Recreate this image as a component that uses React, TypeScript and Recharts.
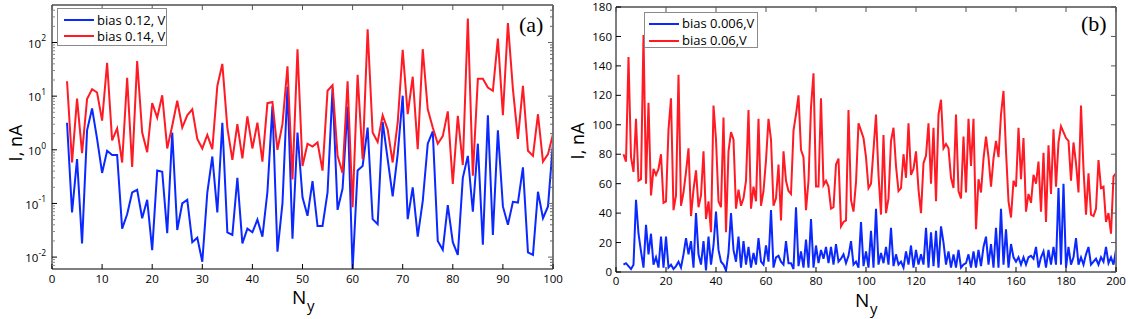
import React from "react";
import { LineChart, Line, XAxis, YAxis } from "recharts";

const BLUE = "#0a28ff";
const RED = "#ff1a24";
const SANS = "'Open Sans', 'DejaVu Sans', sans-serif";
const SERIF = "'Liberation Serif', 'DejaVu Serif', serif";
const TICK = 5;

// N_y starts at 3 in both panels
const firstNy = 3;

// panel (a): log scale, N_y = 3..100
const blueA = [
  3.2, 0.068, 0.67, 0.018, 2.3, 5.9, 1.6, 0.37, 0.96, 0.8,
  0.8, 0.034, 0.063, 0.16, 0.18, 0.053, 0.117, 0.0135, 0.41, 0.39,
  0.028, 2.1, 0.032, 0.1, 0.117, 0.019, 0.023, 0.0082, 0.16, 0.75,
  0.068, 3.2, 0.029, 0.026, 0.3, 0.018, 0.034, 0.029, 0.05, 0.024,
  0.165, 6.6, 0.0126, 0.1, 15, 0.022, 2.1, 0.13, 0.059, 0.26,
  0.038, 0.038, 0.16, 14, 0.076, 0.19, 6.4, 0.0058, 0.41, 0.5,
  2.6, 0.051, 0.041, 3.3, 0.67, 0.135, 0.83, 10.2, 0.051, 0.2,
  0.024, 0.11, 1.3, 2.2, 0.02, 0.0137, 0.093, 0.019, 0.011, 0.3,
  0.77, 0.07, 1.3, 0.017, 4.4, 0.026, 2.3, 0.088, 0.04, 0.107,
  0.104, 0.47, 0.0123, 0.011, 0.165, 0.053, 0.088, 1.37,
];
const redA = [
  19, 0.58, 9, 0.87, 8.8, 13.5, 11.7, 3.5, 42, 1.5,
  2.5, 0.58, 22, 0.48, 45, 2.1, 0.9, 7.4, 4, 10.4,
  1.06, 2.8, 8.2, 2.6, 4.4, 5.7, 1.6, 1.06, 1.9, 1.03,
  15.5, 40, 2.6, 0.65, 3, 0.69, 4.2, 1.06, 3.2, 0.6,
  7.4, 7.8, 1.0, 3, 36, 0.28, 75, 0.5, 1.3, 1.15,
  1.37, 0.41, 12.6, 16, 0.77, 0.37, 19, 0.085, 25, 0.67,
  177, 2.1, 1.4, 4.4, 2.4, 0.58, 3.2, 73, 4.6, 23,
  1.03, 75, 5.7, 2.6, 1.3, 1.8, 5.2, 0.23, 4.3, 0.52,
  280, 0.33, 21, 21, 14.5, 12.6, 118, 4.4, 230, 13.5,
  1.6, 15.5, 0.96, 0.77, 4.6, 0.6, 0.83, 1.96,
];

// panel (b): linear scale, N_y = 3..200
const blueB = [
  5, 6, 4, 2, 5, 49, 26, 14, 3, 32,
  12, 26, 5, 10, 3, 24, 3, 24, 3, 5,
  2, 4, 7, 3, 12, 23, 12, 21, 3, 40,
  12, 5, 21, 1, 24, 5, 18, 41, 15, 7,
  5, 1, 13, 40, 15, 7, 24, 3, 21, 5,
  17, 3, 13, 5, 23, 7, 5, 18, 7, 42,
  3, 10, 11, 7, 5, 21, 6, 6, 2, 44,
  4, 14, 3, 22, 3, 36, 3, 18, 6, 15,
  9, 17, 6, 17, 5, 19, 7, 9, 12, 6,
  11, 21, 5, 7, 3, 34, 4, 14, 3, 28,
  3, 43, 5, 13, 6, 17, 5, 30, 4, 12,
  5, 7, 3, 14, 5, 18, 3, 15, 5, 12,
  5, 30, 3, 27, 4, 28, 3, 31, 20, 5,
  14, 3, 12, 3, 15, 3, 5, 6, 12, 3,
  14, 3, 15, 4, 17, 24, 5, 19, 3, 30,
  3, 43, 5, 29, 3, 19, 10, 7, 10, 5,
  10, 5, 10, 11, 9, 17, 3, 10, 14, 3,
  15, 5, 17, 5, 57, 5, 60, 3, 17, 5,
  10, 23, 5, 10, 5, 12, 17, 5, 7, 9,
  5, 10, 7, 17, 6, 10, 5, 15,
];
const redB = [
  80, 75, 146, 78, 68, 104, 62, 63, 161, 60,
  115, 52, 70, 66, 70, 80, 47, 48, 97, 118,
  42, 52, 134, 45, 54, 68, 84, 38, 56, 69,
  44, 52, 82, 36, 48, 27, 113, 90, 48, 44,
  105, 27, 82, 95, 90, 43, 56, 45, 50, 62,
  110, 43, 58, 48, 104, 45, 55, 76, 104, 90,
  45, 50, 73, 35, 82, 62, 55, 53, 96, 107,
  120, 83, 78, 42, 62, 112, 135, 58, 58, 118,
  59, 62, 58, 43, 44, 73, 77, 31, 34, 35,
  110, 49, 41, 61, 101, 96, 91, 78, 57, 60,
  83, 107, 66, 39, 93, 40, 50, 89, 98, 72,
  55, 57, 80, 64, 101, 66, 70, 82, 56, 40,
  74, 79, 101, 60, 98, 48, 107, 117, 84, 87,
  84, 64, 57, 107, 55, 50, 92, 54, 104, 72,
  104, 29, 63, 54, 77, 92, 78, 58, 77, 89,
  78, 107, 123, 82, 48, 37, 62, 58, 98, 63,
  91, 41, 53, 47, 66, 60, 75, 41, 81, 34,
  86, 53, 97, 58, 88, 99, 95, 91, 89, 62,
  88, 74, 54, 113, 70, 39, 67, 39, 38, 43,
  76, 57, 58, 34, 40, 26, 65, 67,
];

const xTicksA = [0, 10, 20, 30, 40, 50, 60, 70, 80, 90, 100];
const decadesA = [0.01, 0.1, 1, 10, 100];
const minorA = [
  0.007, 0.008, 0.009,
  0.02, 0.03, 0.04, 0.05, 0.06, 0.07, 0.08, 0.09,
  0.2, 0.3, 0.4, 0.5, 0.6, 0.7, 0.8, 0.9,
  2, 3, 4, 5, 6, 7, 8, 9,
  20, 30, 40, 50, 60, 70, 80, 90,
  200, 300, 400,
];
const xTicksB = [0, 20, 40, 60, 80, 100, 120, 140, 160, 180, 200];
const yTicksB = [0, 20, 40, 60, 80, 100, 120, 140, 160, 180];

const seriesA = [
  { key: "blue", name: "bias 0.12, V", color: BLUE },
  { key: "red", name: "bias 0.14, V", color: RED },
];
const seriesB = [
  { key: "blue", name: "bias 0.006,V", color: BLUE },
  { key: "red", name: "bias 0.06,V", color: RED },
];

const toRows = (blue: number[], red: number[]) =>
  blue.map((b, i) => ({ ny: firstNy + i, blue: b, red: red[i] }));
const rowsA = toRows(blueA, redA);
const rowsB = toRows(blueB, redB);
const logTicksA = [...minorA, ...decadesA].sort((a, b) => a - b);

const label = { fontSize: 11.5, fontFamily: SANS, fill: "#000" };

// MATLAB-style ticks point into the plot box
const bottomTick = (gap: number) => (p: any) => (
  <g>
    <line x1={p.x} x2={p.x} y1={p.y - gap} y2={p.y - gap - TICK} stroke="#000" />
    <text x={p.x} y={p.y} dy="0.71em" textAnchor="middle" {...label}>{p.payload.value}</text>
  </g>
);
const topTick = (p: any) => (
  <line x1={p.x} x2={p.x} y1={p.y} y2={p.y + TICK} stroke="#555" />
);
const leftTick = (gap: number) => (p: any) => (
  <g>
    <line x1={p.x + gap} x2={p.x + gap + TICK} y1={p.y} y2={p.y} stroke="#000" />
    <text x={p.x} y={p.y} dy="0.36em" textAnchor="end" {...label}>{p.payload.value}</text>
  </g>
);
const rightTick = (p: any) => (
  <line x1={p.x - TICK} x2={p.x} y1={p.y} y2={p.y} stroke="#555" />
);
const logLeftTick = (gap: number) => (p: any) => {
  const v = p.payload.value;
  const ax = p.x + gap;
  if (!decadesA.includes(v)) {
    return <line x1={ax} x2={ax + 3} y1={p.y} y2={p.y} stroke="#888" />;
  }
  const exp = Math.round(Math.log10(v));
  return (
    <g>
      <line x1={ax} x2={ax + TICK} y1={p.y} y2={p.y} stroke="#000" />
      <text x={p.x} y={p.y} dy="0.45em" textAnchor="end" {...label}>
        10<tspan dy="-0.75em" fontSize={8.5}>{exp}</tspan>
      </text>
    </g>
  );
};
const logRightTick = (p: any) => {
  const len = decadesA.includes(p.payload.value) ? TICK : 3;
  return <line x1={p.x - len} x2={p.x} y1={p.y} y2={p.y} stroke="#666" />;
};

type Item = { key: string; name: string; color: string };

function LegendBox({ items, left, top, width, height, padTop, padLeft, rowH, textGap }: {
  items: Item[]; left: number; top: number; width: number; height: number;
  padTop: number; padLeft: number; rowH: number; textGap: number;
}) {
  return (
    <div style={{
      position: "absolute", left, top, width, height, boxSizing: "border-box",
      border: "1px solid #8a8a8a", background: "#fff", paddingTop: padTop, paddingLeft: padLeft,
    }}>
      {items.map((s) => (
        <div key={s.key} style={{ display: "flex", alignItems: "center", height: rowH }}>
          <span style={{ width: 30, height: 2, background: s.color, display: "inline-block" }} />
          <span style={{ marginLeft: textGap, fontFamily: SANS, fontSize: 13, lineHeight: "13px", whiteSpace: "nowrap" }}>
            {s.name}
          </span>
        </div>
      ))}
    </div>
  );
}

function YLabel({ cx, cy }: { cx: number; cy: number }) {
  return (
    <div style={{
      position: "absolute", left: cx, top: cy, transform: "translate(-50%, -50%) rotate(-90deg)",
      fontFamily: SANS, fontSize: 18, lineHeight: "18px", whiteSpace: "nowrap",
    }}>I, nA</div>
  );
}

// "N" and subscript "y" as two side-by-side boxes so they do not overlap
function XLabel({ left, top }: { left: number; top: number }) {
  return (
    <>
      <div style={{ position: "absolute", left, top, fontFamily: SANS, fontSize: 19, lineHeight: "12px", whiteSpace: "nowrap" }}>N</div>
      <div style={{ position: "absolute", left: left + 15, top: top + 9, fontFamily: SANS, fontSize: 15, lineHeight: "10px", whiteSpace: "nowrap" }}>y</div>
    </>
  );
}

function PanelTag({ text, left, top }: { text: string; left: number; top: number }) {
  return (
    <div style={{ position: "absolute", left, top, fontFamily: SERIF, fontSize: 22, lineHeight: "22px" }}>{text}</div>
  );
}

export default function App() {
  return (
    <div style={{ position: "absolute", left: 0, top: 0, width: 1128, height: 319, background: "#fff", overflow: "hidden" }}>
      <div style={{ position: "absolute", left: 0, top: 0 }}>
        <LineChart width={570} height={319} data={rowsA} margin={{ top: 3, right: 15, bottom: 20, left: 10 }}>
          <XAxis dataKey="ny" type="number" domain={[0, 100]} ticks={xTicksA} interval={0} allowDataOverflow
            height={30} tickSize={0} tickMargin={6} tickLine={false} tick={bottomTick(6)} axisLine={{ stroke: "#000" }} />
          <XAxis xAxisId="top" orientation="top" dataKey="ny" type="number" domain={[0, 100]} ticks={xTicksA} interval={0}
            allowDataOverflow height={2} tickSize={0} tickMargin={0} tickLine={false} tick={topTick}
            axisLine={{ stroke: "#7a7a7a", strokeWidth: 2 }} />
          <YAxis scale="log" type="number" domain={[0.006, 500]} allowDataOverflow ticks={logTicksA} interval={0}
            width={42} tickSize={0} tickMargin={6} tickLine={false} tick={logLeftTick(6)} axisLine={{ stroke: "#000" }} />
          <YAxis yAxisId="right" orientation="right" scale="log" type="number" domain={[0.006, 500]} allowDataOverflow
            ticks={logTicksA} interval={0} width={2} tickSize={0} tickMargin={0} tickLine={false} tick={logRightTick}
            axisLine={{ stroke: "#7a7a7a", strokeWidth: 2 }} />
          {seriesA.map((s) => (
            <Line key={s.key} type="linear" dataKey={s.key} stroke={s.color} strokeWidth={2} dot={false}
              activeDot={false} isAnimationActive={false} />
          ))}
        </LineChart>
      </div>
      <div style={{ position: "absolute", left: 570, top: 0 }}>
        <LineChart width={558} height={319} data={rowsB} margin={{ top: 5, right: 10, bottom: 17, left: 6 }}>
          <XAxis dataKey="ny" type="number" domain={[0, 200]} ticks={xTicksB} interval={0} allowDataOverflow
            height={30} tickSize={0} tickMargin={5} tickLine={false} tick={bottomTick(5)} axisLine={{ stroke: "#000" }} />
          <XAxis xAxisId="top" orientation="top" dataKey="ny" type="number" domain={[0, 200]} ticks={xTicksB} interval={0}
            allowDataOverflow height={2} tickSize={0} tickMargin={0} tickLine={false} tick={topTick}
            axisLine={{ stroke: "#7a7a7a", strokeWidth: 2 }} />
          <YAxis type="number" domain={[0, 180]} ticks={yTicksB} interval={0} allowDataOverflow
            width={40} tickSize={0} tickMargin={4} tickLine={false} tick={leftTick(4)} axisLine={{ stroke: "#000" }} />
          <YAxis yAxisId="right" orientation="right" type="number" domain={[0, 180]} ticks={yTicksB} interval={0}
            allowDataOverflow width={2} tickSize={0} tickMargin={0} tickLine={false} tick={rightTick}
            axisLine={{ stroke: "#7a7a7a", strokeWidth: 2 }} />
          {seriesB.map((s) => (
            <Line key={s.key} type="linear" dataKey={s.key} stroke={s.color} strokeWidth={2} dot={false}
              activeDot={false} isAnimationActive={false} />
          ))}
        </LineChart>
      </div>

      <LegendBox items={seriesA} left={57} top={8} width={110} height={38} padTop={3} padLeft={6} rowH={16} textGap={3} />
      <LegendBox items={seriesB} left={644} top={12} width={114} height={36} padTop={2} padLeft={4} rowH={17} textGap={3} />

      <YLabel cx={15} cy={143} />
      <YLabel cx={577} cy={141} />
      <XLabel left={292} top={291} />
      <XLabel left={855} top={294} />
      <PanelTag text="(a)" left={519} top={14} />
      <PanelTag text="(b)" left={1081} top={13} />
    </div>
  );
}
